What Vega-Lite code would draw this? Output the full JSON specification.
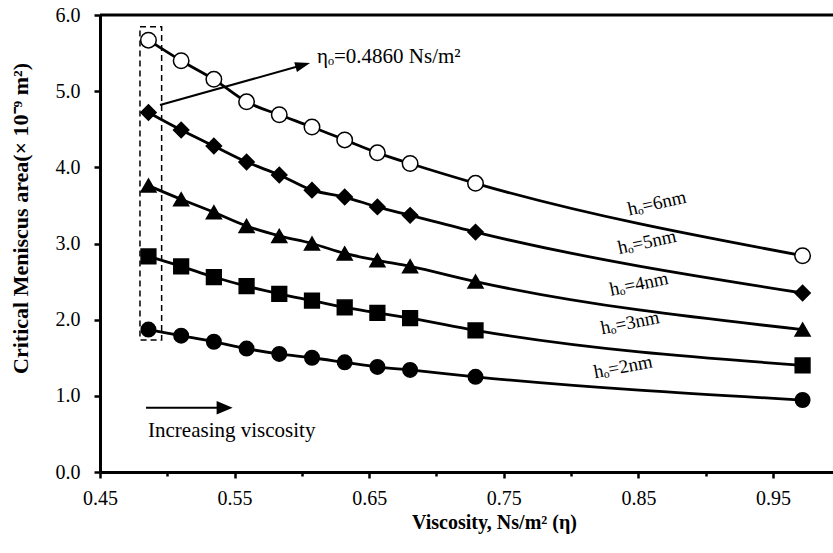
{
  "$schema": "https://vega.github.io/schema/vega-lite/v6.json",
  "width": 733,
  "height": 457,
  "autosize": {"type": "none"},
  "padding": {"left": 100, "top": 15, "right": 0, "bottom": 81},
  "background": "white",
  "config": {
    "view": {"stroke": null},
    "font": "Liberation Serif",
    "axis": {
      "domainColor": "black", "domainWidth": 3, "tickColor": "black", "tickWidth": 2.5,
      "labelFont": "Liberation Serif", "labelFontSize": 20, "labelColor": "black", "labelFlush": false,
      "titleFont": "Liberation Serif", "titleFontSize": 20, "titleFontWeight": "bold", "titleColor": "black",
      "grid": false
    }
  },
  "datasets": {
    "series": [
      {"x": 0.486, "y": 5.67, "h": "6nm"}, {"x": 0.5103, "y": 5.40, "h": "6nm"}, {"x": 0.5346, "y": 5.155, "h": "6nm"}, {"x": 0.5589, "y": 4.86, "h": "6nm"}, {"x": 0.5832, "y": 4.69, "h": "6nm"}, {"x": 0.6075, "y": 4.53, "h": "6nm"}, {"x": 0.6318, "y": 4.36, "h": "6nm"}, {"x": 0.6561, "y": 4.19, "h": "6nm"}, {"x": 0.6804, "y": 4.05, "h": "6nm"}, {"x": 0.729, "y": 3.79, "h": "6nm"}, {"x": 0.972, "y": 2.84, "h": "6nm"},
      {"x": 0.486, "y": 4.72, "h": "5nm"}, {"x": 0.5103, "y": 4.49, "h": "5nm"}, {"x": 0.5346, "y": 4.28, "h": "5nm"}, {"x": 0.5589, "y": 4.07, "h": "5nm"}, {"x": 0.5832, "y": 3.90, "h": "5nm"}, {"x": 0.6075, "y": 3.70, "h": "5nm"}, {"x": 0.6318, "y": 3.61, "h": "5nm"}, {"x": 0.6561, "y": 3.48, "h": "5nm"}, {"x": 0.6804, "y": 3.37, "h": "5nm"}, {"x": 0.729, "y": 3.15, "h": "5nm"}, {"x": 0.972, "y": 2.35, "h": "5nm"},
      {"x": 0.486, "y": 3.76, "h": "4nm"}, {"x": 0.5103, "y": 3.58, "h": "4nm"}, {"x": 0.5346, "y": 3.41, "h": "4nm"}, {"x": 0.5589, "y": 3.23, "h": "4nm"}, {"x": 0.5832, "y": 3.10, "h": "4nm"}, {"x": 0.6075, "y": 3.00, "h": "4nm"}, {"x": 0.6318, "y": 2.87, "h": "4nm"}, {"x": 0.6561, "y": 2.78, "h": "4nm"}, {"x": 0.6804, "y": 2.70, "h": "4nm"}, {"x": 0.729, "y": 2.50, "h": "4nm"}, {"x": 0.972, "y": 1.87, "h": "4nm"},
      {"x": 0.486, "y": 2.83, "h": "3nm"}, {"x": 0.5103, "y": 2.70, "h": "3nm"}, {"x": 0.5346, "y": 2.56, "h": "3nm"}, {"x": 0.5589, "y": 2.44, "h": "3nm"}, {"x": 0.5832, "y": 2.34, "h": "3nm"}, {"x": 0.6075, "y": 2.25, "h": "3nm"}, {"x": 0.6318, "y": 2.16, "h": "3nm"}, {"x": 0.6561, "y": 2.09, "h": "3nm"}, {"x": 0.6804, "y": 2.02, "h": "3nm"}, {"x": 0.729, "y": 1.86, "h": "3nm"}, {"x": 0.972, "y": 1.40, "h": "3nm"},
      {"x": 0.486, "y": 1.87, "h": "2nm"}, {"x": 0.5103, "y": 1.79, "h": "2nm"}, {"x": 0.5346, "y": 1.71, "h": "2nm"}, {"x": 0.5589, "y": 1.62, "h": "2nm"}, {"x": 0.5832, "y": 1.55, "h": "2nm"}, {"x": 0.6075, "y": 1.50, "h": "2nm"}, {"x": 0.6318, "y": 1.44, "h": "2nm"}, {"x": 0.6561, "y": 1.38, "h": "2nm"}, {"x": 0.6804, "y": 1.34, "h": "2nm"}, {"x": 0.729, "y": 1.25, "h": "2nm"}, {"x": 0.972, "y": 0.945, "h": "2nm"}
    ],
    "labels": [
      {"x": 0.8638, "y": 3.53, "t": "hₒ=6nm", "h": "6nm"},
      {"x": 0.8564, "y": 3.02, "t": "hₒ=5nm", "h": "5nm"},
      {"x": 0.8504, "y": 2.47, "t": "hₒ=4nm", "h": "4nm"},
      {"x": 0.8438, "y": 1.96, "t": "hₒ=3nm", "h": "3nm"},
      {"x": 0.8386, "y": 1.38, "t": "hₒ=2nm", "h": "2nm"}
    ],
    "notes": [
      {"x": 0.6112, "y": 5.37, "t": "ηₒ=0.4860 Ns/m²"},
      {"x": 0.4857, "y": 0.46, "t": "Increasing viscosity"}
    ],
    "arrows": [
      {"x": 0.4946, "y": 4.818, "x2": 0.6007, "y2": 5.343},
      {"x": 0.4842, "y": 0.844, "x2": 0.5426, "y2": 0.844}
    ],
    "box": [
      {"x": 0.4797, "x2": 0.4958, "y": 5.846, "y2": 1.733}
    ]
  },
  "layer": [
    {
      "data": {"name": "box"},
      "mark": {"type": "rect", "fill": null, "stroke": "black", "strokeWidth": 1.5, "strokeDash": [6, 4]},
      "encoding": {
        "x": {"field": "x", "type": "quantitative", "scale": {"domain": [0.45, 0.9946], "nice": false, "zero": false},
          "axis": {
            "values": [0.45, 0.5, 0.55, 0.6, 0.65, 0.7, 0.75, 0.8, 0.85, 0.9, 0.95],
            "labelExpr": "indexof([0.45,0.55,0.65,0.75,0.85,0.95], datum.value) >= 0 ? format(datum.value, '.2f') : ''",
            "tickSize": {"condition": {"test": "indexof([0.45,0.55,0.65,0.75,0.85,0.95], datum.value) >= 0", "value": 6}, "value": 4},
            "labelPadding": 10,
            "title": "Viscosity, Ns/m² (η)",
            "titleX": 394, "titleY": 56, "titleBaseline": "alphabetic", "titleAnchor": "middle"
          }
        },
        "x2": {"field": "x2"},
        "y": {"field": "y", "type": "quantitative", "scale": {"domain": [0, 6], "nice": false},
          "axis": {
            "values": [0, 0.5, 1, 1.5, 2, 2.5, 3, 3.5, 4, 4.5, 5, 5.5, 6],
            "labelExpr": "datum.value % 1 === 0 ? format(datum.value, '.1f') : ''",
            "tickSize": {"condition": {"test": "datum.value % 1 === 0", "value": 6}, "value": 4},
            "labelPadding": 14,
            "title": "Critical  Meniscus area(× 10⁻⁹ m²)",
            "titleFontSize": 22,
            "titleX": -80, "titleY": 203, "titleBaseline": "middle", "titleAnchor": "middle", "titleAngle": -90
          }
        },
        "y2": {"field": "y2"}
      }
    },
    {
      "data": {"name": "series"},
      "mark": {"type": "line", "interpolate": "monotone", "color": "black", "strokeWidth": 2.8},
      "encoding": {
        "x": {"field": "x", "type": "quantitative"},
        "y": {"field": "y", "type": "quantitative"},
        "detail": {"field": "h"}
      }
    },
    {
      "data": {"name": "series"},
      "mark": {"type": "point", "filled": true, "stroke": "black", "strokeWidth": 1.5, "opacity": 1},
      "encoding": {
        "x": {"field": "x", "type": "quantitative"},
        "y": {"field": "y", "type": "quantitative"},
        "shape": {"field": "h", "type": "nominal", "scale": {"domain": ["6nm", "5nm", "4nm", "3nm", "2nm"], "range": ["circle", "diamond", "triangle-up", "square", "circle"]}, "legend": null},
        "fill": {"field": "h", "type": "nominal", "scale": {"domain": ["6nm", "5nm", "4nm", "3nm", "2nm"], "range": ["white", "black", "black", "black", "black"]}, "legend": null},
        "size": {"field": "h", "type": "nominal", "scale": {"domain": ["6nm", "5nm", "4nm", "3nm", "2nm"], "range": [240, 210, 190, 175, 240]}, "legend": null}
      }
    },
    {
      "data": {"name": "arrows"},
      "mark": {"type": "rule", "color": "black", "strokeWidth": 2},
      "encoding": {
        "x": {"field": "x", "type": "quantitative"},
        "y": {"field": "y", "type": "quantitative"},
        "x2": {"field": "x2"},
        "y2": {"field": "y2"}
      }
    },
    {
      "data": {"values": [{"x": 0.6007, "y": 5.343}]},
      "mark": {"type": "point", "shape": "M-1,-0.67L1,0L-1,0.67Z", "filled": true, "color": "black", "opacity": 1, "size": 225, "angle": 344.4},
      "encoding": {
        "x": {"field": "x", "type": "quantitative"},
        "y": {"field": "y", "type": "quantitative"}
      }
    },
    {
      "data": {"values": [{"x": 0.5426, "y": 0.844}]},
      "mark": {"type": "point", "shape": "M-1,-0.85L1,0L-1,0.85Z", "filled": true, "color": "black", "opacity": 1, "size": 256},
      "encoding": {
        "x": {"field": "x", "type": "quantitative"},
        "y": {"field": "y", "type": "quantitative"}
      }
    },
    {
      "data": {"values": [{"y": 6}]},
      "mark": {"type": "rule", "color": "black", "strokeWidth": 3},
      "encoding": {
        "y": {"field": "y", "type": "quantitative"}
      }
    },
    {
      "data": {"name": "labels"},
      "mark": {"type": "text", "font": "Liberation Serif", "fontSize": 19, "color": "black", "align": "center", "baseline": "middle"},
      "encoding": {
        "x": {"field": "x", "type": "quantitative"},
        "y": {"field": "y", "type": "quantitative"},
        "text": {"field": "t"},
        "angle": {"field": "h", "type": "nominal", "scale": {"domain": ["6nm", "5nm", "4nm", "3nm", "2nm"], "range": [347.5, 349.5, 351.6, 353.9, 355.9]}, "legend": null}
      }
    },
    {
      "data": {"name": "notes"},
      "mark": {"type": "text", "font": "Liberation Serif", "fontSize": 21, "color": "black", "align": "left", "baseline": "alphabetic"},
      "encoding": {
        "x": {"field": "x", "type": "quantitative"},
        "y": {"field": "y", "type": "quantitative"},
        "text": {"field": "t"}
      }
    }
  ]
}
